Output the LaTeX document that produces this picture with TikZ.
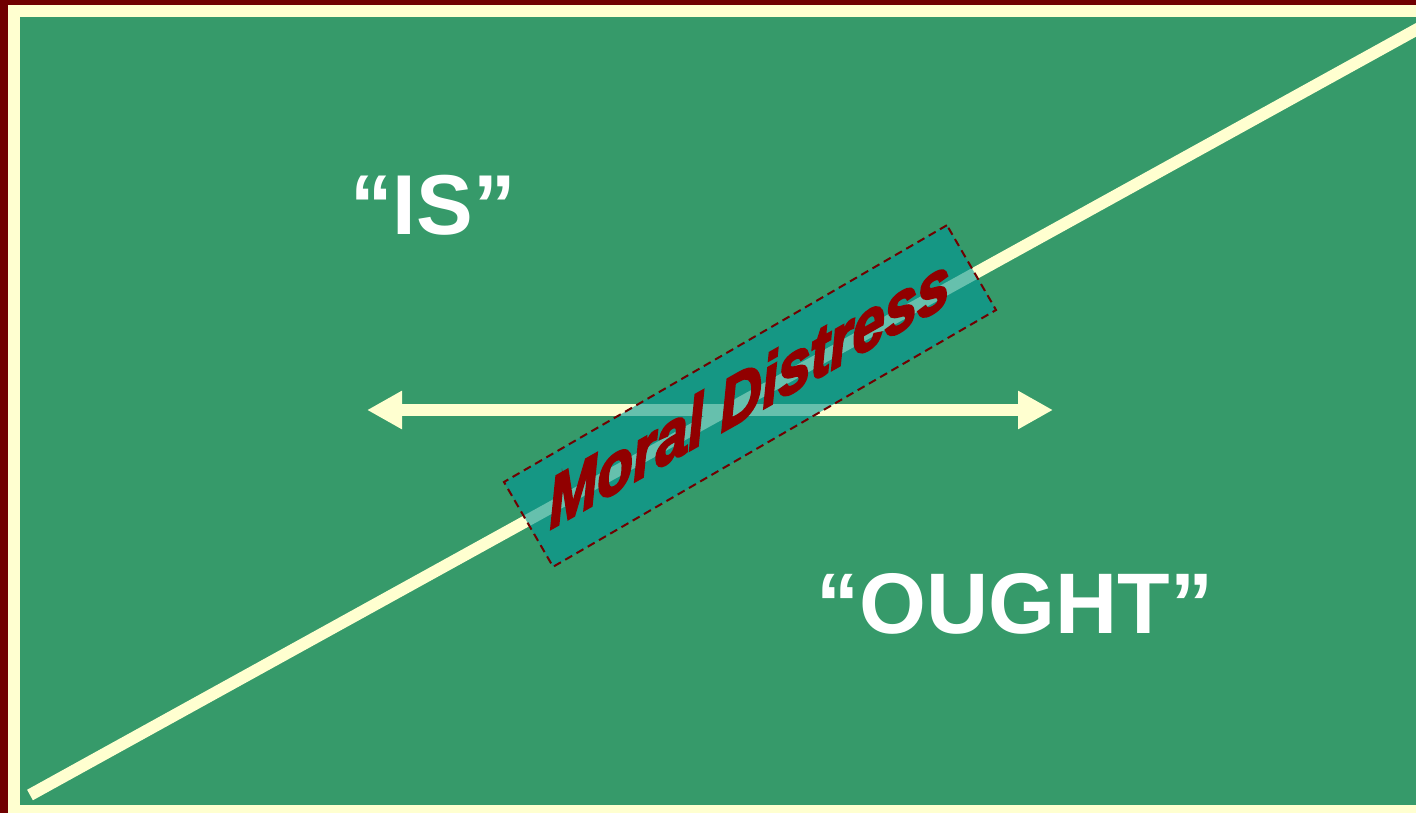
\documentclass[tikz,border=0pt]{standalone}
\usepackage{fontspec}
\setmainfont{Liberation Sans}
\newfontfamily\mdfont{Liberation Sans}[UprightFont={* Bold Italic}, FakeBold=3.5]
\usetikzlibrary{arrows.meta}
\definecolor{bordermaroon}{RGB}{112,0,0}
\definecolor{cream}{RGB}{255,255,208}
\definecolor{bggreen}{RGB}{54,154,106}
\definecolor{boxteal}{RGB}{0,150,150}
\definecolor{textmaroon}{RGB}{145,0,0}
\tikzset{
  bigword/.style={text=white, font=\fontsize{85}{85}\selectfont\bfseries, anchor=base, inner sep=0pt},
  creamline/.style={draw=cream, line width=12pt},
  distressbox/.style={draw=bordermaroon, line width=2pt, dash pattern=on 8pt off 5pt,
    fill=boxteal, fill opacity=0.6, minimum width=512pt, minimum height=98pt, inner sep=0pt},
  distresstext/.style={text=textmaroon, font=\mdfont\fontsize{63}{63}\selectfont, inner sep=0pt}
}
\begin{document}
\begin{tikzpicture}[x=1pt,y=-1pt]
\useasboundingbox (0,0) rectangle (1416,813);
\clip (0,0) rectangle (1416,813);
% frame
\fill[bordermaroon] (0,0) rectangle (1416,813);
\fill[cream] (8,5) rectangle (1416,813);
\fill[bggreen] (20,17) rectangle (1416,805);
% diagonal
\coordinate (dstart) at (30,795);
\coordinate (dend) at (1440,16.6);
\draw[creamline] (dstart) -- (dend);
% double arrow
\coordinate (aleft) at (367,410);
\coordinate (aright) at (1053,410);
\draw[creamline, {Triangle[length=35pt,width=36pt]}-{Triangle[length=35pt,width=36pt]}, cream] (aleft) -- (aright);
% labels
\node[bigword] (is) at (433,234) {“IS”};
\node[bigword, font=\fontsize{86}{86}\selectfont\bfseries] (ought) at (1015,633) {“OUGHT”};
% moral distress box
\node[distressbox, rotate=30.1] (box) at (750,396) {};
\node[distresstext, rotate=29.5, xslant=0.5, xscale=1.06] (md) at (749,391) {Moral Distress};
\end{tikzpicture}
\end{document}
